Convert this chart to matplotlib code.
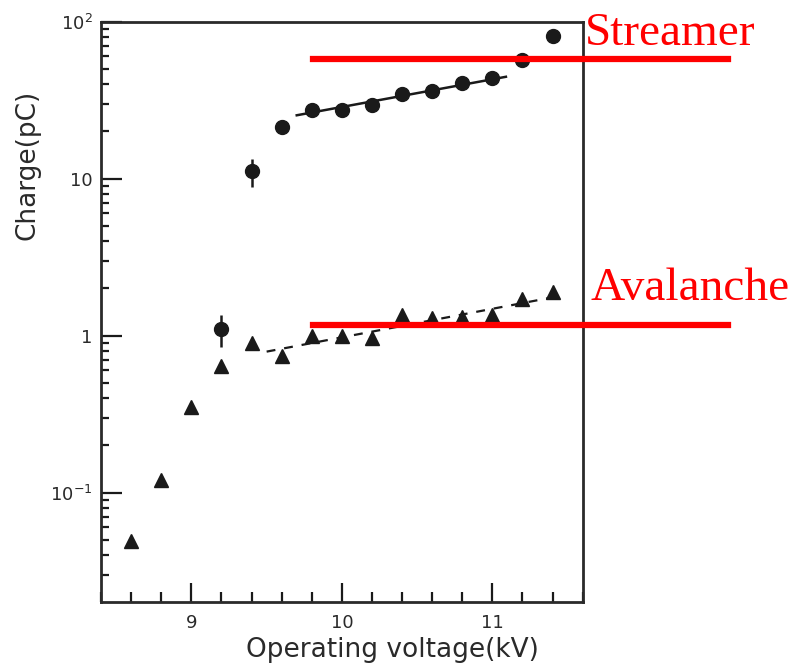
import numpy as np
import matplotlib
matplotlib.use("Agg")
from matplotlib import pyplot as plt
from matplotlib.ticker import FixedLocator, FixedFormatter, LogLocator, MultipleLocator, NullFormatter

# Avalanche charge (triangles)
aval_kv = [8.6, 8.8, 9.0, 9.2, 9.4, 9.6, 9.8, 10.0, 10.2, 10.4, 10.6, 10.8, 11.0, 11.2, 11.4]
aval_pc = [0.049, 0.12, 0.35, 0.64, 0.89, 0.74, 1.0, 1.0, 0.97, 1.36, 1.30, 1.32, 1.36, 1.70, 1.89]

# Streamer charge (circles) with error bars
strm_kv = [9.2, 9.4, 9.6, 9.8, 10.0, 10.2, 10.4, 10.6, 10.8, 11.0, 11.2, 11.4]
strm_pc = [1.1, 11.1, 21.3, 27.5, 27.2, 29.6, 34.8, 36.2, 40.8, 43.4, 56.8, 80.9]
strm_err = [0.25, 2.3, 2.0, 1.5, 1.5, 1.5, 2.0, 2.0, 2.5, 3.0, 3.0, 8.0]

# Fit lines
strm_fit_kv = [9.70, 11.09]
strm_fit_pc = [25.3, 44.5]
aval_fit_kv = [9.50, 11.44]
aval_fit_pc = [0.79, 1.78]

ytick_vals = [0.1, 1, 10, 100]
ytick_labels = ["$10^{-1}$", "1", "10", "$10^{2}$"]
xtick_vals = [9, 10, 11]

ink = "#1a1a1a"

fig = plt.figure(figsize=(7.96, 6.64), dpi=100)
ax = fig.add_axes([0.127, 0.094, 0.605, 0.8735])

ax.errorbar(strm_kv, strm_pc, yerr=strm_err, fmt="o", color=ink, ms=10,
            elinewidth=1.8, capsize=0, zorder=3)
ax.plot(aval_kv, aval_pc, "^", color=ink, ms=10, zorder=3)
ax.plot(strm_fit_kv, strm_fit_pc, "-", color=ink, lw=1.8)
ax.plot(aval_fit_kv, aval_fit_pc, "--", color=ink, lw=1.6, dashes=(4, 4))

ax.set_yscale("log")
ax.set_xlim(8.4, 11.6)
ax.set_ylim(0.0202, 100)

ax.yaxis.set_major_locator(FixedLocator(ytick_vals))
ax.yaxis.set_major_formatter(FixedFormatter(ytick_labels))
ax.yaxis.set_minor_locator(LogLocator(base=10, subs=np.arange(2, 10)))
ax.yaxis.set_minor_formatter(NullFormatter())
ax.xaxis.set_major_locator(FixedLocator(xtick_vals))
ax.xaxis.set_minor_locator(MultipleLocator(0.2))

ax.tick_params(which="both", direction="in", color=ink, labelcolor="#2a2a2a",
               labelsize=13, width=1.6)
ax.tick_params(axis="y", which="major", length=15, pad=6)
ax.tick_params(axis="y", which="minor", length=6)
ax.tick_params(axis="x", which="major", length=14, pad=9)
ax.tick_params(axis="x", which="minor", length=7)
ax.tick_params(top=False, right=False, which="both")

for s in ax.spines.values():
    s.set_linewidth(2)
    s.set_color("#2a2a2a")

fig.text(28 / 796, 1 - 165 / 664, "Charge(pC)", rotation=90, ha="center",
         va="center", fontsize=19, color="#2a2a2a")
fig.text(392 / 796, 1 - 650 / 664, "Operating voltage(kV)", ha="center",
         va="center", fontsize=19, color="#2a2a2a")

# red annotation lines and labels
red = "#ff0000"
ax.plot([9.81, 12.566], [57.5, 57.5], color=red, lw=4.5, clip_on=False, zorder=4)
ax.plot([9.81, 12.566], [1.175, 1.175], color=red, lw=4.5, clip_on=False, zorder=4)
ax.text(11.616, 71.3, "Streamer", color=red, fontsize=34,
        family="Liberation Serif", ha="left", va="baseline")
ax.text(11.65, 1.68, "Avalanche", color=red, fontsize=34,
        family="Liberation Serif", ha="left", va="baseline")

fig.savefig("out.png", dpi=100)
